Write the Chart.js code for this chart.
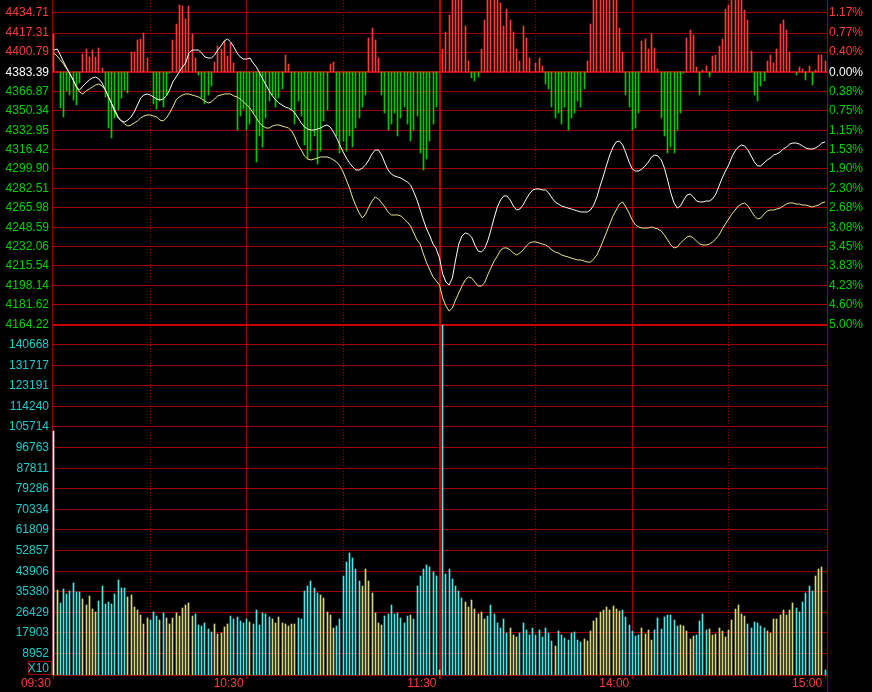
<!DOCTYPE html>
<html><head><meta charset="utf-8">
<script src="https://cdn.jsdelivr.net/npm/chart.js@4.4.0/dist/chart.umd.min.js"></script>
<style>html,body{margin:0;padding:0;background:#000;overflow:hidden}canvas{display:block}</style>
</head><body>
<canvas id="c" width="872" height="692"></canvas>
<script>
// ---------------- data ----------------
const timeLabels = ['09:30','10:30','11:30','14:00','15:00'];
const timeLabelMinutes = [0,60,120,180,240];
const halfHourMinutes = [30,90,150,210];
const prevClose = 4383.39;
const priceLabels = ['4434.71','4417.31','4400.79','4383.39','4366.87','4350.34','4332.95','4316.42','4299.90','4282.51','4265.98','4248.59','4232.06','4215.54','4198.14','4181.62','4164.22'];
const pctLabels = ['1.17%','0.77%','0.40%','0.00%','0.38%','0.75%','1.15%','1.53%','1.90%','2.30%','2.68%','3.08%','3.45%','3.83%','4.23%','4.60%','5.00%'];
const volLabels = ['140668','131717','123191','114240','105714','96763','87811','79286','70334','61809','52857','43906','35380','26429','17903','8952'];
const priceTop = 4445.98;   // top edge of the price panel
const volTop = 149190;      // top edge of the volume panel

const priceLine = [4402.6,4403.5,4398.3,4392.2,4387.0,4381.8,4376.6,4370.6,4368.0,4371.4,4374.0,4376.6,4378.4,4379.2,4377.5,4374.0,4368.0,4361.9,4355.8,4348.9,
4343.7,4341.1,4340.2,4341.9,4344.5,4348.9,4354.9,4361.0,4363.6,4364.5,4363.6,4361.9,4360.2,4359.3,4360.2,4362.8,4368.0,4374.9,4379.2,4383.6,
4387.9,4391.4,4400.0,4402.6,4402.6,4402.6,4400.0,4396.6,4395.7,4395.7,4398.3,4402.6,4406.1,4410.4,4412.2,4409.6,4405.2,4400.0,4396.6,4394.8,
4394.8,4395.7,4391.4,4387.9,4382.7,4377.5,4372.3,4367.1,4362.8,4359.3,4356.7,4354.9,4353.2,4352.3,4350.6,4348.0,4343.7,4339.3,4335.9,4334.1,
4333.3,4333.3,4334.1,4335.0,4336.7,4337.6,4335.9,4331.5,4326.3,4320.3,4314.2,4309.0,4304.7,4301.2,4298.6,4298.6,4300.3,4302.9,4307.3,4312.5,
4315.9,4315.9,4311.6,4304.7,4298.6,4295.1,4293.4,4292.5,4291.7,4289.9,4288.2,4285.6,4279.5,4272.6,4263.9,4255.2,4247.4,4241.4,4234.4,4230.1,
4222.3,4208.4,4201.5,4198.9,4205.0,4220.6,4234.4,4241.4,4244.0,4243.1,4240.5,4233.6,4228.4,4227.5,4230.1,4237.0,4246.6,4257.0,4266.5,4272.6,
4276.1,4276.1,4272.6,4267.4,4263.9,4264.8,4268.2,4273.5,4277.8,4281.3,4282.1,4282.1,4281.3,4281.3,4278.7,4274.3,4270.9,4269.1,4267.4,4266.5,
4265.6,4264.8,4263.9,4263.0,4262.2,4262.2,4262.2,4263.9,4268.2,4275.2,4284.7,4293.4,4302.9,4311.6,4318.5,4322.9,4323.7,4320.3,4313.3,4305.5,
4299.5,4297.7,4297.7,4299.5,4302.1,4305.5,4309.9,4311.6,4310.7,4307.3,4300.3,4289.9,4278.7,4270.0,4265.6,4267.4,4272.6,4276.9,4277.8,4275.2,
4271.7,4270.9,4270.9,4271.7,4271.7,4273.5,4277.8,4284.7,4291.7,4297.7,4302.9,4309.9,4315.1,4318.5,4320.3,4319.4,4315.9,4310.7,4305.5,4302.1,
4302.1,4304.7,4307.3,4309.0,4311.6,4312.5,4314.2,4316.8,4318.5,4321.1,4322.0,4322.0,4321.1,4319.4,4317.7,4316.8,4316.8,4317.7,4319.4,4322.0,
4322.9];

const leadLine = [4400.0,4397.4,4394.0,4390.5,4386.2,4381.8,4376.6,4370.6,4366.2,4364.5,4367.1,4368.8,4370.6,4372.3,4373.2,4371.4,4368.0,4361.9,4355.8,4350.6,
4344.5,4341.1,4338.5,4336.7,4337.6,4339.3,4341.1,4343.7,4345.4,4346.3,4346.3,4345.4,4344.5,4341.9,4341.1,4343.7,4348.0,4353.2,4359.3,4361.9,
4363.6,4364.5,4364.5,4363.6,4362.8,4361.9,4360.2,4358.4,4356.7,4357.6,4360.2,4362.8,4363.6,4364.5,4364.5,4364.5,4362.8,4361.9,4360.2,4357.6,
4354.9,4352.3,4348.0,4343.7,4339.3,4336.7,4335.0,4335.0,4336.7,4337.6,4337.6,4336.7,4335.9,4335.0,4332.4,4327.2,4320.3,4315.9,4310.7,4308.1,
4307.3,4308.1,4309.0,4309.9,4309.9,4309.9,4309.0,4307.3,4305.5,4302.1,4296.9,4289.9,4283.0,4274.3,4267.4,4261.3,4257.0,4260.4,4266.5,4271.7,
4275.2,4273.5,4270.0,4266.5,4262.2,4259.6,4259.6,4259.6,4258.7,4256.1,4253.5,4250.0,4244.0,4237.9,4234.4,4225.8,4218.0,4211.9,4205.8,4202.4,
4198.9,4187.6,4180.7,4176.3,4178.9,4185.9,4192.0,4198.0,4203.2,4205.8,4205.0,4201.5,4198.0,4198.0,4200.6,4207.6,4213.6,4219.7,4224.0,4229.2,
4231.0,4231.0,4229.2,4226.6,4224.9,4226.6,4229.2,4232.7,4235.3,4236.2,4236.2,4235.3,4234.4,4233.6,4231.8,4229.2,4227.5,4226.6,4224.9,4224.0,
4223.2,4222.3,4221.4,4220.6,4220.6,4219.7,4218.8,4218.8,4221.4,4224.9,4231.0,4237.9,4244.8,4251.8,4258.7,4263.9,4269.1,4270.9,4266.5,4261.3,
4255.2,4250.9,4249.2,4248.3,4248.3,4248.3,4249.2,4248.3,4247.4,4245.7,4242.2,4237.9,4233.6,4231.0,4231.8,4235.3,4237.9,4240.5,4241.4,4239.6,
4237.0,4234.4,4233.6,4233.6,4234.4,4236.2,4238.8,4242.2,4247.4,4251.8,4256.1,4260.4,4263.9,4267.4,4269.1,4270.0,4267.4,4263.0,4258.7,4256.1,
4257.0,4260.4,4263.0,4263.9,4263.9,4264.8,4265.6,4267.4,4269.1,4270.0,4270.0,4269.1,4269.1,4268.2,4268.2,4267.4,4266.5,4267.4,4268.2,4270.0,
4270.9];

// buy/sell strength bars, in index points above/below the previous close
const strength = [33.5,0,-31,-39,-16.5,-20,-24,-28.6,-9.5,15.6,19.7,13,19,13,21,3.5,-21.7,-48.6,-57.2,-40,
-33,-22.5,-15.6,-18.2,17.3,17.3,27.7,29.2,34.4,12.7,0,-28,-32,-25,-30,-20,-1,27.7,41.6,58,
57,46.5,57,33,12.7,-2.6,-22,-28,-20,-12,8.9,22.5,20.5,27.1,13.9,25.4,8,-50,-38,-32,
-50,-45,-35,-78,-55,-65,-40,-25,-20,-30,-22,-15,14.7,6.9,-33,-45,-25,-38,-63,-75,
-68,-55,-80,-68,-42,-33,6.9,8.9,-55,-70,-60,-68,-55,-65,-48,-40,-30,-20,30,38,
28,12,-20,-35,-50,-45,-35,-55,-40,-30,-45,-60,-50,-38,-70,-85,-75,-60,-45,-30,
0,20,35,50,75,75,75,70,40,10,-5,-8,-4,20,45,75,75,75,75,60,
40,55,45,35,20,10,40,30,12,0,8,12,5,-10,-15,-30,-40,-35,-45,-30,
-50,-40,-35,-25,-30,-15,9.5,42.2,75,75,75,75,75,75,75,75,37.9,17.1,-20,-30,
-50,-48,-35,26.9,29.2,19.7,33.5,21.4,3.2,-40,-55,-70,-65,-70,-50,-35,-1,29.8,36.4,32.1,
4.6,-20,1.7,5.5,-4,13.9,14.7,22.5,29.2,54.6,58,75,75,75,75,53.8,45.1,18.2,-20,-25,
-12,-8,10,15,8,20,42.2,45.1,36.4,17.6,0,-2.6,4.6,3,-7,5.2,-11.3,2,14.7,14.7,
10];

const volume = [104000,36260,30850,36690,34550,35830,39110,35410,35410,32420,29860,33700,28160,26880,31570,37970,30290,31140,30290,34550,
40530,37110,37110,33280,34130,29010,27730,25600,21760,24320,23460,27000,25170,23460,26450,24320,21760,24320,26450,25170,
28580,29860,30720,25170,26020,21330,20900,22180,19620,18340,21760,17490,17920,20480,21760,25170,23890,24740,23040,22180,
23890,22700,21760,27730,21330,26320,26020,24610,23890,22050,24610,22050,21760,20900,21760,21760,24190,23890,36000,38000,
40000,37000,35000,34000,33000,26880,25600,19920,20900,23890,42000,48000,52000,50000,45000,40000,38000,45000,40000,35000,
26320,22050,21330,25170,26020,29860,26020,26320,24190,22050,25170,25600,23890,38000,42000,45000,47000,46000,44000,42000,
2100,160000,43000,45000,41000,38000,36000,33000,31000,29000,32000,28000,26000,27000,24000,25000,30000,26000,22000,20000,
24000,18000,20000,17000,16000,18000,22000,19000,17000,20000,17000,19000,16000,20000,17780,14620,12490,18760,17180,15900,
14920,18030,18330,14920,14200,15350,14490,18760,23020,24430,26860,27710,29120,27710,29410,28140,27280,27710,24850,21320,
18760,16630,17180,20040,17610,19180,14920,19180,24430,19610,24850,25710,25710,23450,20890,21320,20890,18760,15350,16630,
17180,23020,26000,19180,19610,17180,17610,20040,18760,16330,19180,23450,28140,29840,26000,25280,21740,20040,22590,22170,
20890,20040,18760,17900,23870,23870,25580,27710,25710,27710,30690,28560,26860,31120,35000,38000,36000,42000,45000,46000,
2130];

// 1 = price up that minute, -1 = down, 0 = opening auction
const volDir = [0,-1,1,1,1,1,1,1,1,-1,-1,-1,-1,-1,1,1,1,1,1,1,
1,1,1,-1,-1,-1,-1,-1,-1,-1,1,1,1,-1,1,-1,-1,-1,-1,-1,
-1,-1,-1,-1,1,1,1,1,1,1,-1,-1,-1,-1,-1,1,1,1,1,1,
1,-1,1,1,1,1,1,1,-1,-1,-1,-1,-1,-1,-1,-1,1,1,1,1,
1,1,1,-1,-1,-1,-1,-1,1,1,1,1,1,1,1,1,-1,-1,-1,-1,
-1,-1,-1,1,1,1,1,1,1,1,1,-1,1,1,1,1,1,1,1,1,
-1,1,1,1,1,1,1,1,-1,-1,-1,-1,-1,-1,-1,1,1,1,1,1,
1,1,-1,-1,-1,1,1,1,1,1,1,1,1,1,1,1,-1,1,1,1,
1,1,1,1,1,-1,-1,-1,-1,-1,-1,-1,-1,-1,-1,-1,-1,1,1,1,
1,1,1,-1,-1,-1,-1,1,1,1,1,1,1,1,1,-1,-1,-1,-1,-1,
1,1,1,1,-1,-1,-1,-1,-1,-1,-1,-1,-1,-1,-1,-1,1,1,1,1,
1,1,-1,-1,-1,-1,-1,-1,-1,-1,-1,1,1,1,1,1,1,-1,-1,-1,
1];

// ---------------- style ----------------
const FONT = {family: '"Liberation Sans", Arial, sans-serif', size: 12};
const GRID = '#a00000';
const GRID_STRONG = '#c80000';
const RED = '#ff3c3c', GREEN = '#00d200', WHITE = '#ffffff', CYAN_TXT = '#1ecbcb';
const BAR_UP = '#ff3c3c', BAR_DN = '#00c800';
const VOL_UP = '#4ce8e8', VOL_DN = '#d8d884', VOL_OPEN = '#ffffff';

const priceTicks = priceLabels.map((s, k) => ({value: Number(s), label: s, pct: pctLabels[k]}));
const priceByValue = new Map(priceTicks.map(t => [t.value, t]));
const volByValue = new Map(volLabels.map(s => [Number(s), s]));
const priceColor = v => v > prevClose ? RED : (v < prevClose ? GREEN : WHITE);

const noPad = s => { s.paddingTop = 0; s.paddingBottom = 0; s.paddingLeft = 0; s.paddingRight = 0; };

const snapPlugin = {
  id: 'snap',
  afterDatasetsUpdate(chart) {
    chart.getSortedVisibleDatasetMetas().forEach(meta => {
      if (meta.type !== 'bar') return;
      meta.data.forEach(el => {
        el.x = Math.floor(el.x) + 0.5;
        el.y = Math.round(el.y);
        el.base = Math.round(el.base);
      });
    });
  }
};
const clipPlugin = {
  id: 'panelClip',
  beforeDatasetDraw(chart, args) {
    const ds = chart.data.datasets[args.index];
    const sc = chart.scales[ds.yAxisID];
    const a = chart.chartArea;
    chart.ctx.save();
    chart.ctx.beginPath();
    chart.ctx.rect(a.left, sc.top, a.right - a.left, sc.bottom - sc.top);
    chart.ctx.clip();
  },
  afterDatasetDraw(chart) { chart.ctx.restore(); }
};
const framePlugin = {
  id: 'frame',
  afterDraw(chart) {
    const ctx = chart.ctx, a = chart.chartArea;
    ctx.save();
    ctx.strokeStyle = GRID; ctx.lineWidth = 1;
    ctx.beginPath();
    ctx.moveTo(a.right + 0.5, a.bottom); ctx.lineTo(a.right + 0.5, chart.height);
    ctx.stroke();
    ctx.strokeRect(28.5, a.bottom - 13.5, a.left - 29, 13);
    ctx.fillStyle = CYAN_TXT;
    ctx.font = '12px "Liberation Sans", Arial, sans-serif';
    ctx.textAlign = 'right'; ctx.textBaseline = 'middle';
    ctx.fillText('X10', a.left - 3, a.bottom - 6.5);
    ctx.restore();
  }
};

const xs = volume.map((_, i) => i);

new Chart(document.getElementById('c'), {
  type: 'bar',
  data: {
    datasets: [
      {type: 'line', label: '指数', data: xs.map(i => ({x: i, y: priceLine[i]})), xAxisID: 'x', yAxisID: 'yP',
       borderColor: '#ffffff', borderWidth: 1, pointRadius: 0, tension: 0, order: 0},
      {type: 'line', label: '领先', data: xs.map(i => ({x: i, y: leadLine[i]})), xAxisID: 'x', yAxisID: 'yP',
       borderColor: '#e8e890', borderWidth: 1, pointRadius: 0, tension: 0, order: 1},
      {type: 'bar', label: '强弱', data: xs.map(i => ({x: i, y: [prevClose, prevClose + strength[i]]})), xAxisID: 'x', yAxisID: 'yP',
       backgroundColor: c => strength[c.dataIndex] >= 0 ? BAR_UP : BAR_DN, barThickness: 1, grouped: false, borderWidth: 0, order: 2},
      {type: 'bar', label: '成交量', data: xs.map(i => ({x: i, y: volume[i]})), xAxisID: 'x', yAxisID: 'yV',
       backgroundColor: c => volDir[c.dataIndex] > 0 ? VOL_UP : (volDir[c.dataIndex] < 0 ? VOL_DN : VOL_OPEN),
       barThickness: 1, grouped: false, borderWidth: 0, order: 3}
    ]
  },
  options: {
    responsive: false, animation: false, devicePixelRatio: 1,
    layout: {padding: 0},
    plugins: {legend: {display: false}, tooltip: {enabled: false}, title: {display: false}},
    scales: {
      x: {
        type: 'linear', position: 'bottom', min: -0.6, max: 240.6, offset: false,
        afterBuildTicks: s => { s.ticks = [...timeLabelMinutes, ...halfHourMinutes].sort((a, b) => a - b).map(v => ({value: v})); },
        ticks: {
          autoSkip: false, maxRotation: 0, align: 'end', padding: -3, labelOffset: -3, color: RED, font: FONT,
          callback: v => { const k = timeLabelMinutes.indexOf(v); return k >= 0 ? timeLabels[k] : ''; }
        },
        grid: {
          offset: false, drawTicks: true, tickLength: 4,
          color: c => (c.tick && (c.tick.value === 0 || c.tick.value === 240)) ? 'rgba(0,0,0,0)' : (c.tick && c.tick.value === 120 ? GRID_STRONG : GRID),
          lineWidth: c => c.tick && c.tick.value === 120 ? 2 : 1,
          tickColor: c => c.tick && timeLabelMinutes.includes(c.tick.value) ? GRID : 'rgba(0,0,0,0)'
        },
        border: {color: GRID, dash: c => (c.tick && halfHourMinutes.includes(c.tick.value)) ? [1, 2] : []},
        afterFit: s => { s.height = 17; noPad(s); }
      },
      yV: {
        type: 'linear', position: 'left', stack: 'L', stackWeight: 350, min: 0, max: volTop,
        afterBuildTicks: s => { s.ticks = [0, ...volLabels.map(Number)].sort((a, b) => a - b).map(v => ({value: v})); },
        ticks: {padding: 3, color: CYAN_TXT, font: FONT, autoSkip: false, callback: v => volByValue.get(v) || ''},
        grid: {drawTicks: false, color: GRID},
        border: {color: GRID},
        afterFit: s => { s.width = 52; noPad(s); }
      },
      yP: {
        type: 'linear', position: 'left', stack: 'L', stackWeight: 325, min: 4164.22, max: priceTop,
        afterBuildTicks: s => { s.ticks = priceTicks.map(t => t.value).sort((a, b) => a - b).map(v => ({value: v})); },
        ticks: {padding: 3, font: FONT, autoSkip: false,
          color: c => priceColor(c.tick.value),
          callback: v => priceByValue.get(v) ? priceByValue.get(v).label : ''},
        grid: {drawTicks: false,
          color: c => c.tick && (c.tick.value === prevClose || c.tick.value === 4164.22) ? GRID_STRONG : GRID,
          lineWidth: c => c.tick && (c.tick.value === prevClose || c.tick.value === 4164.22) ? 2 : 1},
        border: {color: GRID},
        afterFit: s => { s.width = 52; noPad(s); }
      },
      yPct: {
        type: 'linear', position: 'right', stack: 'R', stackWeight: 325, min: 4164.22, max: priceTop,
        afterBuildTicks: s => { s.ticks = priceTicks.map(t => t.value).sort((a, b) => a - b).map(v => ({value: v})); },
        ticks: {padding: 2, font: FONT, autoSkip: false,
          color: c => priceColor(c.tick.value),
          callback: v => priceByValue.get(v) ? priceByValue.get(v).pct : ''},
        grid: {drawTicks: false, drawOnChartArea: false},
        border: {color: GRID},
        afterFit: s => { s.width = 45; noPad(s); }
      },
      yR2: {
        type: 'linear', position: 'right', stack: 'R', stackWeight: 350, min: 0, max: volTop,
        ticks: {display: false},
        grid: {display: false, drawTicks: false},
        border: {color: GRID},
        afterFit: s => { s.width = 45; noPad(s); }
      }
    }
  },
  plugins: [snapPlugin, clipPlugin, framePlugin]
});
</script>
</body></html>
